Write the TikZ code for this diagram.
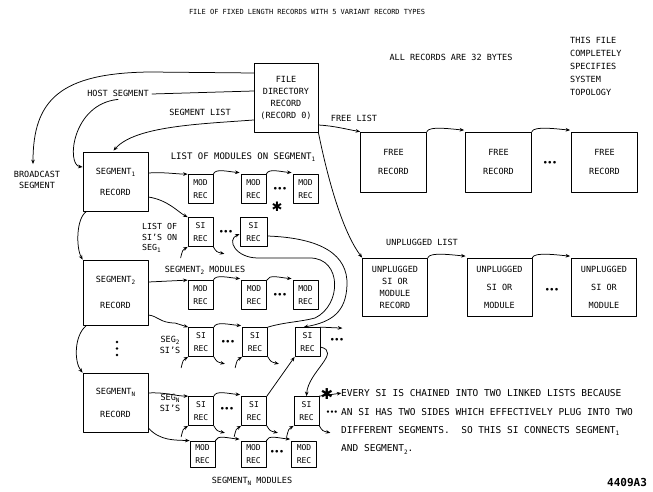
\documentclass[tikz,border=0pt]{standalone}
\usepackage{fontspec}
\setmainfont{DejaVu Sans Mono}
\newfontfamily\symfont{DejaVu Sans}
\usetikzlibrary{arrows.meta,calc}
\newcommand\sbs[1]{\raisebox{-0.45ex}{\fontsize{6}{6}\selectfont #1}}
\newcommand\bumparrow[2]{\draw[arr] (#1.north east) .. controls +(2,-6) and +(-12,-1) .. ($(#2.north west)+(-1,-1.5)$);}
\newcommand\instub[1]{\draw[arr] ($(#1.south west)+(-7,11)$) .. controls ($(#1.south west)+(-5,3)$) .. (#1.south west);}
\newcommand\outstub[1]{\draw[arr] (#1.south east) .. controls ($(#1.south east)+(3,5)$) .. ($(#1.south east)+(11,7)$);}
\begin{document}
\begin{tikzpicture}[x=1pt,y=-1pt, line cap=round, line join=round,
  ln/.style={line width=0.75pt},
  arr/.style={ln,-{Stealth[length=4.5pt,width=3.6pt]}},
  txt/.style={inner sep=0pt, align=center, font=\fontsize{8.5}{11}\selectfont},
  rec/.style={draw, ln, txt, minimum width=65pt},
  sm/.style={draw, ln, inner sep=0pt, align=center, font=\fontsize{8}{12.5}\selectfont, minimum width=25pt, minimum height=29pt},
  dotsn/.style={inner sep=0pt, font=\fontsize{7.5}{7.5}\selectfont\bfseries},
  starn/.style={inner sep=0pt, font=\symfont\fontsize{13}{13}\selectfont}
]
\useasboundingbox (0,0) rectangle (653,492);
\fill[white] (0,0) rectangle (653,492);

% ---- texts ----
\node[txt, font=\fontsize{7}{8}\selectfont] (title) at (307,12) {FILE OF FIXED LENGTH RECORDS WITH 5 VARIANT RECORD TYPES};
\node[txt] (allrec) at (451,57) {ALL RECORDS ARE 32 BYTES};
\node[txt, anchor=north west, align=left, font=\fontsize{8.5}{13}\selectfont] (topo) at (570,37) {THIS FILE\\COMPLETELY\\SPECIFIES\\SYSTEM\\TOPOLOGY};
\node[txt] (host) at (118,93) {HOST SEGMENT};
\node[txt] (seglist) at (200,112) {SEGMENT LIST};
\node[txt] (bc) at (37,180) {BROADCAST\\SEGMENT};
\node[txt, font=\fontsize{9}{11}\selectfont] (lmod) at (243,157) {LIST OF MODULES ON SEGMENT\sbs{1}};
\node[txt, align=left, anchor=west, font=\fontsize{8.3}{10.5}\selectfont] (lsi) at (142,238) {LIST OF\\SI'S ON\\SEG\sbs{1}};
\node[txt] (s2mod) at (205,270) {SEGMENT\sbs{2} MODULES};
\node[txt] (seg2si) at (170,345) {SEG\sbs{2}\\SI'S};
\node[txt] (segNsi) at (170,403) {SEG\sbs{N}\\SI'S};
\node[txt] (sNmod) at (252,481) {SEGMENT\sbs{N} MODULES};
\node[txt] (freel) at (354,118) {FREE LIST};
\node[txt] (unpl) at (422,242) {UNPLUGGED LIST};
\node[starn] (star1) at (277,207) {✱};
\node[starn, font=\symfont\fontsize{15}{15}\selectfont] (star2) at (327,394) {✱};
\node[txt, anchor=west, align=left, font=\fontsize{9.5}{18.3}\selectfont] (note) at (341,422) {EVERY SI IS CHAINED INTO TWO LINKED LISTS BECAUSE\\AN SI HAS TWO SIDES WHICH EFFECTIVELY PLUG INTO TWO\\DIFFERENT SEGMENTS.\ \ SO THIS SI CONNECTS SEGMENT\sbs{1}\\AND SEGMENT\sbs{2}.};
\node[txt, anchor=west, font=\fontsize{11}{11}\selectfont\bfseries] (fig) at (607,483) {4409A3};

% ---- big records ----
\node[rec, minimum width=64pt, minimum height=69pt, font=\fontsize{8.5}{12}\selectfont] (fdr) at (286,97.5) {FILE\\DIRECTORY\\RECORD\\(RECORD 0)};
\node[rec, minimum height=59pt] (seg1) at (115.5,181.5) {SEGMENT\sbs{1}\\[10pt]RECORD};
\node[rec, minimum height=65pt] (seg2) at (115.5,292.5) {SEGMENT\sbs{2}\\[15pt]RECORD};
\node[rec, minimum height=59pt] (segN) at (115.5,402.5) {SEGMENT\sbs{N}\\[12pt]RECORD};

\node[rec, minimum width=66pt, minimum height=60pt] (f1) at (393.5,162) {FREE\\[8pt]RECORD};
\node[rec, minimum width=66pt, minimum height=60pt] (f2) at (498.5,162) {FREE\\[8pt]RECORD};
\node[rec, minimum width=66pt, minimum height=60pt] (f3) at (604.5,162) {FREE\\[8pt]RECORD};

\node[rec, minimum height=58pt, font=\fontsize{8.5}{12}\selectfont] (u1) at (395,287) {UNPLUGGED\\SI OR\\MODULE\\RECORD};
\node[rec, minimum height=58pt] (u2) at (499.5,287) {UNPLUGGED\\[7pt]SI OR\\[7pt]MODULE};
\node[rec, minimum height=58pt] (u3) at (604,287) {UNPLUGGED\\[7pt]SI OR\\[7pt]MODULE};

% ---- small records ----
\node[sm] (m1a) at (200.5,189) {MOD\\REC};
\node[sm] (m1b) at (253.5,189) {MOD\\REC};
\node[sm] (m1c) at (305.5,189) {MOD\\REC};
\node[sm] (s1a) at (200.5,232) {SI\\REC};
\node[sm, minimum width=27pt] (s1b) at (253.5,232) {SI\\REC};
\node[sm] (m2a) at (200.5,295) {MOD\\REC};
\node[sm] (m2b) at (254,295) {MOD\\REC};
\node[sm] (m2c) at (305.5,295) {MOD\\REC};
\node[sm] (s2a) at (201,342) {SI\\REC};
\node[sm] (s2b) at (255,342) {SI\\REC};
\node[sm] (s2c) at (307.5,342) {SI\\REC};
\node[sm] (sNa) at (201,411) {SI\\REC};
\node[sm] (sNb) at (254,411) {SI\\REC};
\node[sm] (sNc) at (306.5,411) {SI\\REC};
\node[sm, minimum height=26pt] (mNa) at (202.5,454) {MOD\\REC};
\node[sm, minimum height=26pt] (mNb) at (253.5,454) {MOD\\REC};
\node[sm, minimum height=26pt] (mNc) at (304,454) {MOD\\REC};

% ---- ellipses ----
\node[dotsn] (d1) at (280,189) {•••};
\node[dotsn] (d2) at (226,232) {•••};
\node[dotsn] (d3) at (280,295) {•••};
\node[dotsn] (d4) at (228,342) {•••};
\node[dotsn] (d5) at (337,340) {•••};
\node[dotsn] (d6) at (227,409) {•••};
\node[dotsn, font=\fontsize{6.5}{6.5}\selectfont\bfseries] (d7) at (332,413) {•••};
\node[dotsn] (d8) at (277,452) {•••};
\node[dotsn] (d9) at (550,163) {•••};
\node[dotsn] (d10) at (552,290) {•••};
\foreach \yy in {342,348.5,355} \fill (117,\yy) circle (1.3);

% ---- connectors from file directory ----
\coordinate (bcA) at (150,72);
\draw[arr] (fdr.west |- 0,73) -- (bcA) .. controls (60,73) and (33,100) .. ($(bc.north)+(-4,-7)$);
\draw[ln] (fdr.west |- 0,91) -- ($(host.east)+(3,1)$);
\draw[arr] ($(host.south)+(0,3)$) .. controls (72,104) and (66,165) .. (seg1.west |- 0,167);
\draw[arr] (fdr.west |- 0,120) .. controls (200,124) and (135,126) .. ($(seg1.north)+(-2,-1)$);
\draw[arr] (fdr.east |- 0,125) .. controls (335,126) and (345,129) .. (f1.north west);
\draw[arr] (fdr.south east) .. controls (330,190) and (345,235) .. (u1.north west);

% ---- free and unplugged lists ----
\bumparrow{f1}{f2}
\bumparrow{f2}{f3}
\bumparrow{u1}{u2}
\bumparrow{u2}{u3}

% ---- segment chain ----
\draw[arr] ($(seg1.south west)+(4,0)$) .. controls (76,218) and (76,248) .. (seg2.north west);
\draw[arr] ($(seg2.south west)+(4,0)$) .. controls (74,335) and (74,362) .. (segN.north west);

% ---- segment 1 lists ----
\draw[arr] (seg1.east |- 0,173) .. controls (165,172) and (175,174) .. (m1a.north west);
\bumparrow{m1a}{m1b}
\bumparrow{m1b}{m1c}
\draw[arr] (seg1.east |- 0,197) .. controls (168,200) and (178,212) .. (s1a.north west);
\instub{s1a}
\outstub{s1a}

% ---- segment 2 lists ----
\draw[arr] (seg2.east |- 0,282) -- (m2a.north west);
\bumparrow{m2a}{m2b}
\bumparrow{m2b}{m2c}
\draw[arr] (seg2.east |- 0,315) .. controls (158,316) and (160,323) .. (175,323) -- (s2a.north west);
\bumparrow{s2a}{s2b}
\instub{s2a}
\outstub{s2a}
\instub{s2b}
\outstub{s2b}
% starred SI: hook into it from SI2b, and out to SI2c
\draw[arr] (s2b.north east) .. controls (285,322) and (300,322) .. (315,318) .. controls (342,305) and (342,258) .. (310,258) -- (258,258) .. controls (236,258) and (226,240) .. (s1b.west |- 0,234);
\draw[arr] (s1b.east |- 0,236) .. controls (322,238) and (348,255) .. (347,285) .. controls (346,312) and (332,322) .. ($(s2c.north west)+(9,0)$);
\draw[arr] (s2c.north east) -- ++(22,1);
\draw[arr] (s2c.east |- 0,347) .. controls (342,352) and (308,372) .. (sNc.north);

% ---- segment N lists ----
\draw[arr] (segN.east |- 0,393) .. controls (165,392) and (175,396) .. (sNa.north west);
\bumparrow{sNa}{sNb}
\draw[arr] (sNb.north east) -- (s2c.south west);
\draw[arr] (sNc.north east) -- ++(22,-3);
\instub{sNa}
\outstub{sNa}
\instub{sNb}
\outstub{sNb}
\instub{sNc}
\outstub{sNc}
\draw[arr] (segN.east |- 0,428) .. controls (160,441) and (175,440) .. (mNa.north west);
\bumparrow{mNa}{mNb}
\bumparrow{mNb}{mNc}
\end{tikzpicture}
\end{document}
